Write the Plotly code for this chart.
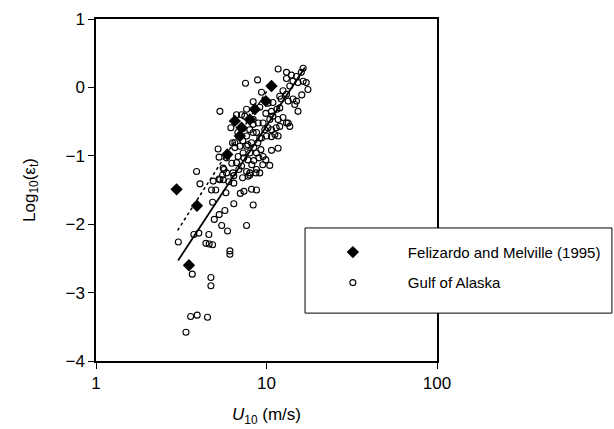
import plotly.graph_objects as go

# Gulf of Alaska (open circles): wind speed U10 (m/s) and log10(eps_t)
gulf_u = [3.89, 4.07, 4.76, 5.04, 5.78, 7.37, 8.17, 8.74, 4.83, 6.43, 8.35, 5.70, 5.28, 4.94,
          5.46, 5.91, 7.64, 3.75, 4.01, 4.59, 3.04, 4.41, 4.61, 4.83, 6.10, 6.10, 3.67, 4.72,
          4.72, 3.59, 3.92, 4.51, 3.37,
          5.20, 5.27, 5.63, 5.53, 4.87, 5.27, 6.36, 6.43, 6.32, 6.52, 10.7, 11.7, 10.45, 8.74,
          8.67, 7.81, 7.98, 7.24, 7.02,
          7.53, 8.86, 5.33, 8.35, 9.35, 6.67, 7.14, 7.64, 9.55, 9.77, 8.74, 9.13, 7.98, 8.35,
          6.52, 6.98, 7.64, 8.17, 5.83, 5.57, 5.83, 5.33, 5.57,
          6.82, 7.29, 7.98, 8.74, 9.55, 6.67, 7.14, 7.64, 7.98, 9.13,
          11.7, 13.1, 14.0, 15.0, 16.0, 16.4, 13.1, 14.3, 13.7, 15.3, 16.4, 17.1,
          12.5, 13.1, 11.96, 12.2, 13.4, 14.3, 15.0, 14.65, 15.3, 10.9, 11.5, 10.7, 11.96,
          7.46, 8.35, 8.93, 10.9, 11.7, 12.5, 13.4, 10.2, 10.7, 11.4, 11.96,
          8.35, 7.64, 9.35, 10.0, 10.7, 11.2, 11.7, 13.1, 13.7,
          7.26, 7.77, 8.43, 8.90, 9.27, 9.02, 8.43, 7.77, 7.36, 6.88, 6.43, 6.01, 6.26, 9.51,
          9.91, 8.20, 6.79, 6.18, 7.26,
          17.5, 16.1, 10.45, 9.91, 9.13, 10.2]
gulf_log_eps = [-1.23, -1.41, -1.50, -1.50, -1.54, -1.52, -1.49, -1.50, -1.68, -1.70, -1.72,
                -1.80, -1.86, -1.93, -2.02, -2.10, -2.02, -2.15, -2.13, -2.15, -2.26, -2.28,
                -2.29, -2.30, -2.39, -2.44, -2.73, -2.78, -2.90, -3.35, -3.33, -3.36, -3.58,
                -0.90, -1.02, -1.20, -1.28, -1.37, -1.34, -1.25, -1.40, -0.81, -0.88, -0.92,
                -0.89, -1.14, -1.20, -1.25, -1.30, -1.25, -1.32, -1.55,
                0.06, 0.11, -0.35, -0.21, -0.07, -0.40, -0.40, -0.32, -0.52, -0.62, -0.66,
                -0.74, -0.62, -0.54, -0.81, -0.86, -0.86, -0.81, -1.03, -1.18, -1.25, -1.35,
                -1.35,
                -1.01, -0.96, -0.96, -0.96, -1.01, -1.10, -1.15, -1.23, -1.28, -1.25,
                0.27, 0.22, 0.18, 0.16, 0.22, 0.28, 0.13, 0.09, 0.02, 0.07, 0.09, 0.07,
                -0.05, -0.10, -0.13, -0.17, -0.20, -0.17, -0.20, -0.25, -0.35, -0.22, -0.32,
                -0.35, -0.30,
                -0.42, -0.47, -0.52, -0.42, -0.47, -0.44, -0.52, -0.59, -0.62, -0.59, -0.57,
                -0.66, -0.71, -0.74, -0.71, -0.72, -0.69, -0.71, -0.52, -0.57,
                -0.78, -0.84, -0.88, -0.81, -0.91, -1.03, -1.07, -1.06, -1.03, -1.20, -1.29,
                -1.38, -1.11, -1.13, -1.06, -1.13, -0.66, -0.59, -0.60,
                -0.03, -0.11, -0.47, -0.38, -0.29, -0.23]

# Felizardo and Melville (1995) (filled diamonds)
fm_u = [2.97, 3.91, 3.51, 5.89, 6.98, 6.52, 7.98, 8.54, 7.14, 9.91, 10.7]
fm_log_eps = [-1.49, -1.73, -2.60, -0.98, -0.71, -0.49, -0.47, -0.32, -0.59, -0.20, 0.02]

# Fit lines
solid_u = [3.03, 16.8]
solid_log_eps = [-2.53, 0.29]
dotted_u = [3.01, 10.5]
dotted_log_eps = [-2.09, 0.02]

FONT = "Liberation Sans, Arial, sans-serif"

fig = go.Figure()
fig.add_trace(go.Scatter(x=solid_u, y=solid_log_eps, mode="lines",
                         line=dict(color="black", width=1.8), showlegend=False))
fig.add_trace(go.Scatter(x=dotted_u, y=dotted_log_eps, mode="lines",
                         line=dict(color="black", width=1.5, dash="dot"), showlegend=False))
fig.add_trace(go.Scatter(x=gulf_u, y=gulf_log_eps, mode="markers", name="Gulf of Alaska",
                         legendgroup="b", legendrank=2,
                         marker=dict(symbol="circle-open", size=6, color="black",
                                     line=dict(width=1.1, color="black"))))
fig.add_trace(go.Scatter(x=fm_u, y=fm_log_eps, mode="markers",
                         name="Felizardo and Melville (1995)", legendgroup="a", legendrank=1,
                         marker=dict(symbol="diamond", size=9.5, color="black")))

# legend box
fig.add_shape(type="rect", xref="paper", yref="paper", x0=0.613, x1=1.513, y0=0.140, y1=0.389,
              fillcolor="white", line=dict(color="black", width=1), layer="above")

fig.update_layout(
    width=614, height=429,
    margin=dict(l=96, r=177, t=19, b=68, autoexpand=False),
    paper_bgcolor="white", plot_bgcolor="white",
    font=dict(family=FONT, color="black", size=15),
    legend=dict(x=0.592, y=0.366, xanchor="left", yanchor="top", bgcolor="rgba(0,0,0,0)",
                borderwidth=0, font=dict(size=15, family=FONT), traceorder="grouped",
                tracegroupgap=8, itemwidth=100),
    xaxis=dict(type="log", range=[0, 2], tickvals=[1, 10, 100], ticktext=["1", "10", "100"],
               ticks="outside", ticklen=6, tickwidth=1.2, tickcolor="black",
               showline=True, linecolor="black", linewidth=1.5, mirror=True,
               showgrid=False, zeroline=False, tickfont=dict(size=17),
               title=dict(text="<i>U</i><sub>10</sub> (m/s)", font=dict(size=17), standoff=16)),
    yaxis=dict(range=[-4, 1], tickvals=[-4, -3, -2, -1, 0, 1], ticks="outside", ticklen=6,
               tickwidth=1.2, tickcolor="black",
               showline=True, linecolor="black", linewidth=1.5, mirror=True,
               showgrid=False, zeroline=False, tickfont=dict(size=17),
               title=dict(text="Log<sub>10</sub>(ε<sub>t</sub>)", font=dict(size=17), standoff=26)),
)

fig.write_html("out.html")
